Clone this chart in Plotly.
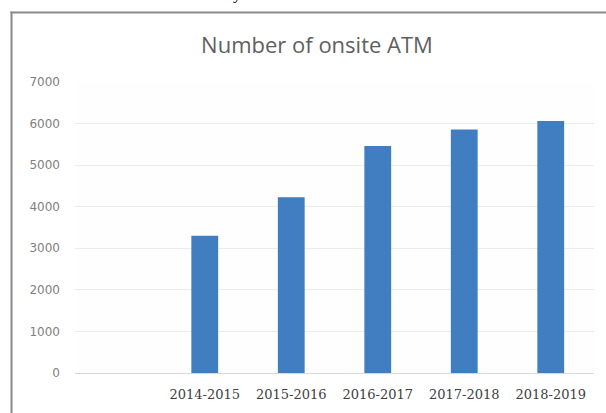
import plotly.graph_objects as go

categories = ["2014-2015", "2015-2016", "2016-2017", "2017-2018", "2018-2019"]
atm_counts = [3300, 4230, 5460, 5860, 6060]
y_ticks = [0, 1000, 2000, 3000, 4000, 5000, 6000, 7000]

W, H = 606, 413
L, R, T, B = 75, 12, 82, 40
pw, ph = W - L - R, H - T - B

def px_x(x):
    return (x - L) / pw

def px_y(y):
    return (H - B - y) / ph

fig = go.Figure(go.Bar(
    x=categories, y=atm_counts,
    marker=dict(color="#417DC1", line=dict(width=0)),
))

frame_line = dict(color="#8a8a8a", width=2)
fig.update_layout(
    width=W, height=H,
    margin=dict(l=L, r=R, t=T, b=B),
    paper_bgcolor="white", plot_bgcolor="#fefefe",
    showlegend=False,
    bargap=0.69,
    title=dict(text="Number of onsite ATM", x=317 / W, xanchor="center", xref="container",
               y=1 - 45 / H, yanchor="middle", yref="container",
               font=dict(family="Open Sans", size=22, color="#5f5f5f")),
    xaxis=dict(type="category", range=[-1.5, 4.5], showgrid=False, showline=False,
               zeroline=False, ticks="", ticklabelstandoff=12,
               tickfont=dict(family="DejaVu Serif", size=13, color="#404040")),
    yaxis=dict(range=[0, 7000], tickvals=y_ticks, showgrid=True, gridcolor="#ececec",
               gridwidth=1, zeroline=True, zerolinecolor="#d9d9d9", zerolinewidth=1,
               showline=False, ticks="", ticklabelstandoff=14,
               tickfont=dict(family="DejaVu Sans", size=12, color="#808080")),
    shapes=[
        dict(type="line", xref="paper", yref="paper",
             x0=px_x(11.5), x1=px_x(11.5), y0=px_y(11.5), y1=px_y(413),
             line=frame_line, layer="below"),
        dict(type="line", xref="paper", yref="paper",
             x0=px_x(10.5), x1=px_x(606), y0=px_y(12.5), y1=px_y(12.5),
             line=frame_line, layer="below"),
    ],
    annotations=[dict(text="y", xref="paper", yref="paper", x=px_x(237), y=px_y(-6),
                      xanchor="center", yanchor="middle", showarrow=False,
                      font=dict(family="Liberation Serif", size=17, color="black"))],
)

fig.write_html(
    "out.html", config={"displayModeBar": False},
    post_script=("document.documentElement.style.overflow='hidden';"
                 "document.body.style.overflow='hidden';"
                 "document.body.style.margin='0';"
                 "document.body.style.padding='0';"))
